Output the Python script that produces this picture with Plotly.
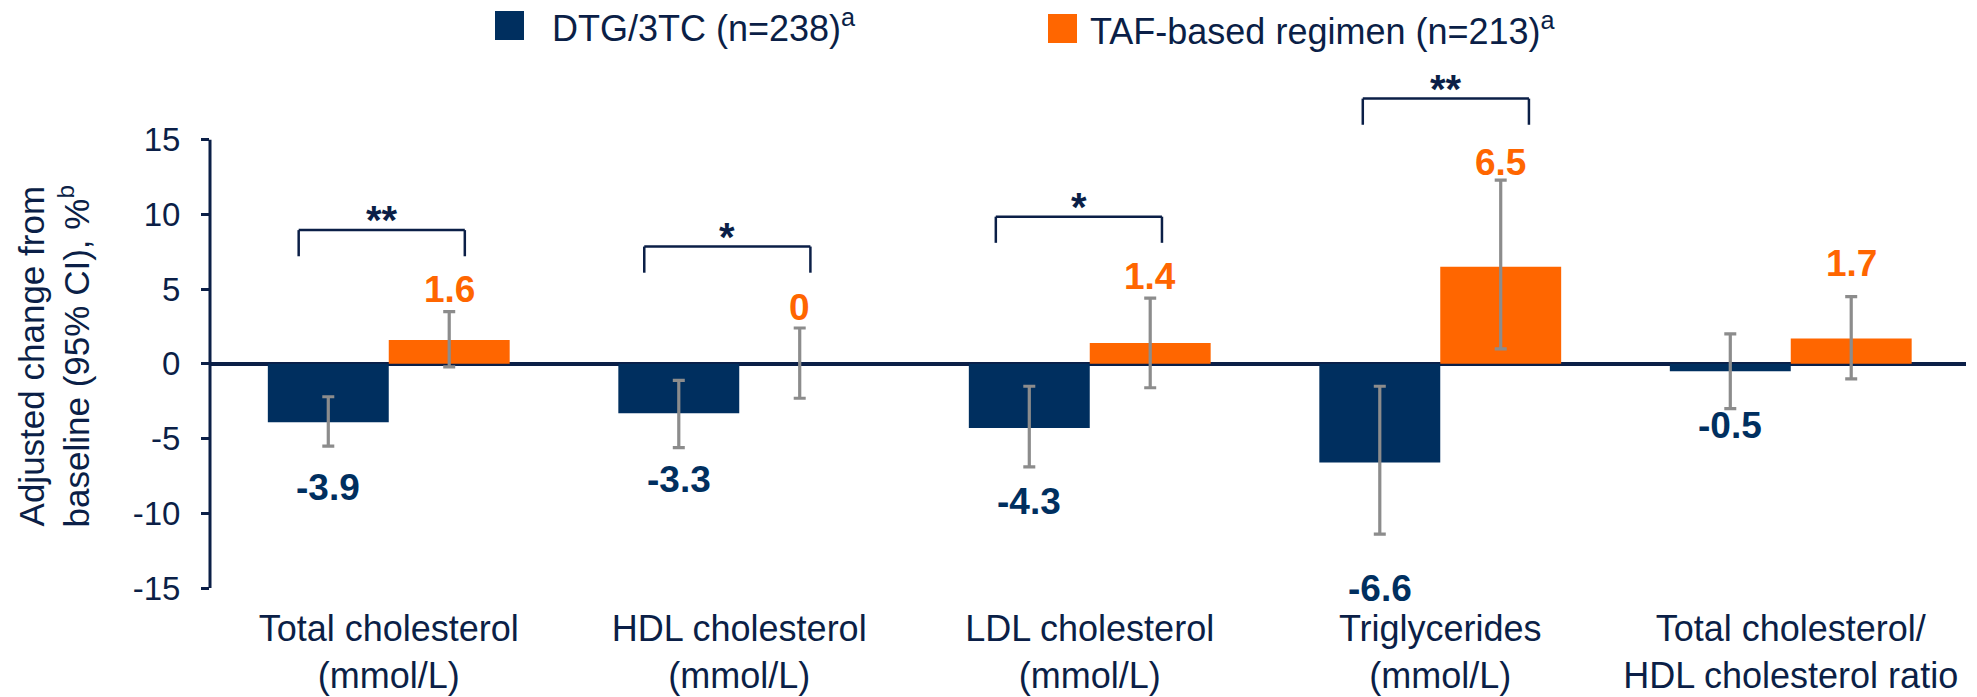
import plotly.graph_objects as go

# ---- data -------------------------------------------------------------
categories = [
    "Total cholesterol<br>(mmol/L)",
    "HDL cholesterol<br>(mmol/L)",
    "LDL cholesterol<br>(mmol/L)",
    "Triglycerides<br>(mmol/L)",
    "Total cholesterol/<br>HDL cholesterol ratio",
]
dtg_change = [-3.9, -3.3, -4.3, -6.6, -0.5]
dtg_ci_low = [-5.5, -5.6, -6.9, -11.4, -3.0]
dtg_ci_high = [-2.2, -1.1, -1.5, -1.5, 2.0]
taf_change = [1.6, 0, 1.4, 6.5, 1.7]
taf_ci_low = [-0.2, -2.3, -1.6, 1.0, -1.0]
taf_ci_high = [3.5, 2.4, 4.4, 12.3, 4.5]
significance = ["**", "*", "*", "**", ""]
y_ticks = [-15, -10, -5, 0, 5, 10, 15]
series_names = ["DTG/3TC (n=238)<sup>a</sup>", "TAF-based regimen (n=213)<sup>a</sup>"]

# ---- styling ----------------------------------------------------------
NAVY = "#002F5F"
ORANGE = "#FF6600"
TEXT = "#0B1F47"
GREY = "#8C8C8C"
FONT = "Arial, Liberation Sans, sans-serif"

# pixel offsets of the value labels from the CI ends
dtg_label_gap = [41, 32, 35, 54, 17]
taf_label_gap = [22, 20, 22, 18, 33]
# horizontal shift of each significance bracket (category units)
bracket_offset = [-0.02, -0.034, -0.031, 0.016]
BRACKET_HALF = 0.237
BRACKET_LEG = 1.75
BRACKET_CLEAR = 5.45


def err(vals, lo, hi):
    return dict(
        type="data",
        symmetric=False,
        array=[h - v for v, h in zip(vals, hi)],
        arrayminus=[v - l for v, l in zip(vals, lo)],
        color=GREY,
        thickness=3.2,
        width=6,
    )


fig = go.Figure()
fig.add_bar(x=categories, y=dtg_change, name=series_names[0], marker_color=NAVY,
            marker_line_width=0, error_y=err(dtg_change, dtg_ci_low, dtg_ci_high))
fig.add_bar(x=categories, y=taf_change, name=series_names[1], marker_color=ORANGE,
            marker_line_width=0, error_y=err(taf_change, taf_ci_low, taf_ci_high))

annotations = []
shapes = []

# value labels
for i in range(len(categories)):
    annotations.append(dict(
        x=i - 0.172, y=dtg_ci_low[i], xref="x", yref="y", text=f"{dtg_change[i]:g}",
        showarrow=False, yanchor="middle", yshift=-dtg_label_gap[i],
        font=dict(family=FONT, size=37, color=NAVY, weight="bold"),
    ))
    annotations.append(dict(
        x=i + 0.172, y=taf_ci_high[i], xref="x", yref="y", text=f"{taf_change[i]:g}",
        showarrow=False, yanchor="middle", yshift=taf_label_gap[i],
        font=dict(family=FONT, size=37, color=ORANGE, weight="bold"),
    ))

# significance brackets
for i, mark in enumerate(significance):
    if not mark:
        continue
    top = max(dtg_ci_high[i], taf_ci_high[i]) + BRACKET_CLEAR
    xl = i + bracket_offset[i] - BRACKET_HALF
    xr = i + bracket_offset[i] + BRACKET_HALF
    line = dict(color=TEXT, width=2.5)
    shapes.append(dict(type="line", xref="x", yref="y", x0=xl, x1=xr, y0=top, y1=top, line=line))
    shapes.append(dict(type="line", xref="x", yref="y", x0=xl, x1=xl, y0=top, y1=top - BRACKET_LEG, line=line))
    shapes.append(dict(type="line", xref="x", yref="y", x0=xr, x1=xr, y0=top, y1=top - BRACKET_LEG, line=line))
    annotations.append(dict(
        x=i + bracket_offset[i], y=top, xref="x", yref="y", text=mark, showarrow=False,
        yanchor="middle", yshift=10, font=dict(family=FONT, size=40, color=TEXT, weight="bold"),
    ))

# vertical axis line spanning the tick range only
shapes.append(dict(type="line", xref="paper", yref="y", x0=0, x1=0, y0=y_ticks[0], y1=y_ticks[-1],
                   line=dict(color=TEXT, width=3)))

# legend drawn as swatches + labels above the plot
legend_items = [
    dict(color=NAVY, x0=495, y0=11, tx=550),
    dict(color=ORANGE, x0=1048, y0=14, tx=1088),
]
PLOT_L, PLOT_W, PLOT_B, PLOT_H = 210, 1756, 588, 523
for name, item in zip(series_names, legend_items):
    shapes.append(dict(
        type="rect", xref="paper", yref="paper", line_width=0, fillcolor=item["color"],
        x0=(item["x0"] - PLOT_L) / PLOT_W, x1=(item["x0"] + 29 - PLOT_L) / PLOT_W,
        y0=(PLOT_B - item["y0"]) / PLOT_H, y1=(PLOT_B - item["y0"] - 29) / PLOT_H,
    ))
    annotations.append(dict(
        x=(item["tx"] - PLOT_L) / PLOT_W, y=(PLOT_B - item["y0"] - 15) / PLOT_H,
        xref="paper", yref="paper", xanchor="left", yanchor="middle", showarrow=False,
        text=name, font=dict(family=FONT, size=36, color=TEXT),
    ))

# y-axis title
annotations.append(dict(
    x=0, y=0.5, xref="paper", yref="y", xshift=-156, textangle=-90, showarrow=False,
    xanchor="center", yanchor="middle",
    text="Adjusted change from<br>baseline (95% CI), %<sup>b</sup>",
    font=dict(family=FONT, size=35, color=TEXT),
))

fig.update_layout(
    width=1977, height=697,
    margin=dict(l=PLOT_L, r=11, t=65, b=109),
    paper_bgcolor="white", plot_bgcolor="white",
    barmode="group", bargap=0.31, bargroupgap=0,
    showlegend=False,
    font=dict(family=FONT, color=TEXT),
    annotations=annotations, shapes=shapes,
)
fig.update_xaxes(
    type="category", range=[-0.51, 4.5], showline=False, showgrid=False, zeroline=False,
    ticks="", tickfont=dict(family=FONT, size=36, color=TEXT), ticklabelstandoff=16,
    automargin=False,
)
fig.update_yaxes(
    range=[-15, 20], tickmode="array", tickvals=y_ticks, ticktext=[str(v) for v in y_ticks],
    ticks="outside", ticklen=8,
    tickwidth=3, tickcolor=TEXT, showline=False, showgrid=False,
    zeroline=True, zerolinecolor=TEXT, zerolinewidth=3.5,
    tickfont=dict(family=FONT, size=33, color=TEXT), ticklabelstandoff=14,
    automargin=False,
)

fig.write_html("out.html")
